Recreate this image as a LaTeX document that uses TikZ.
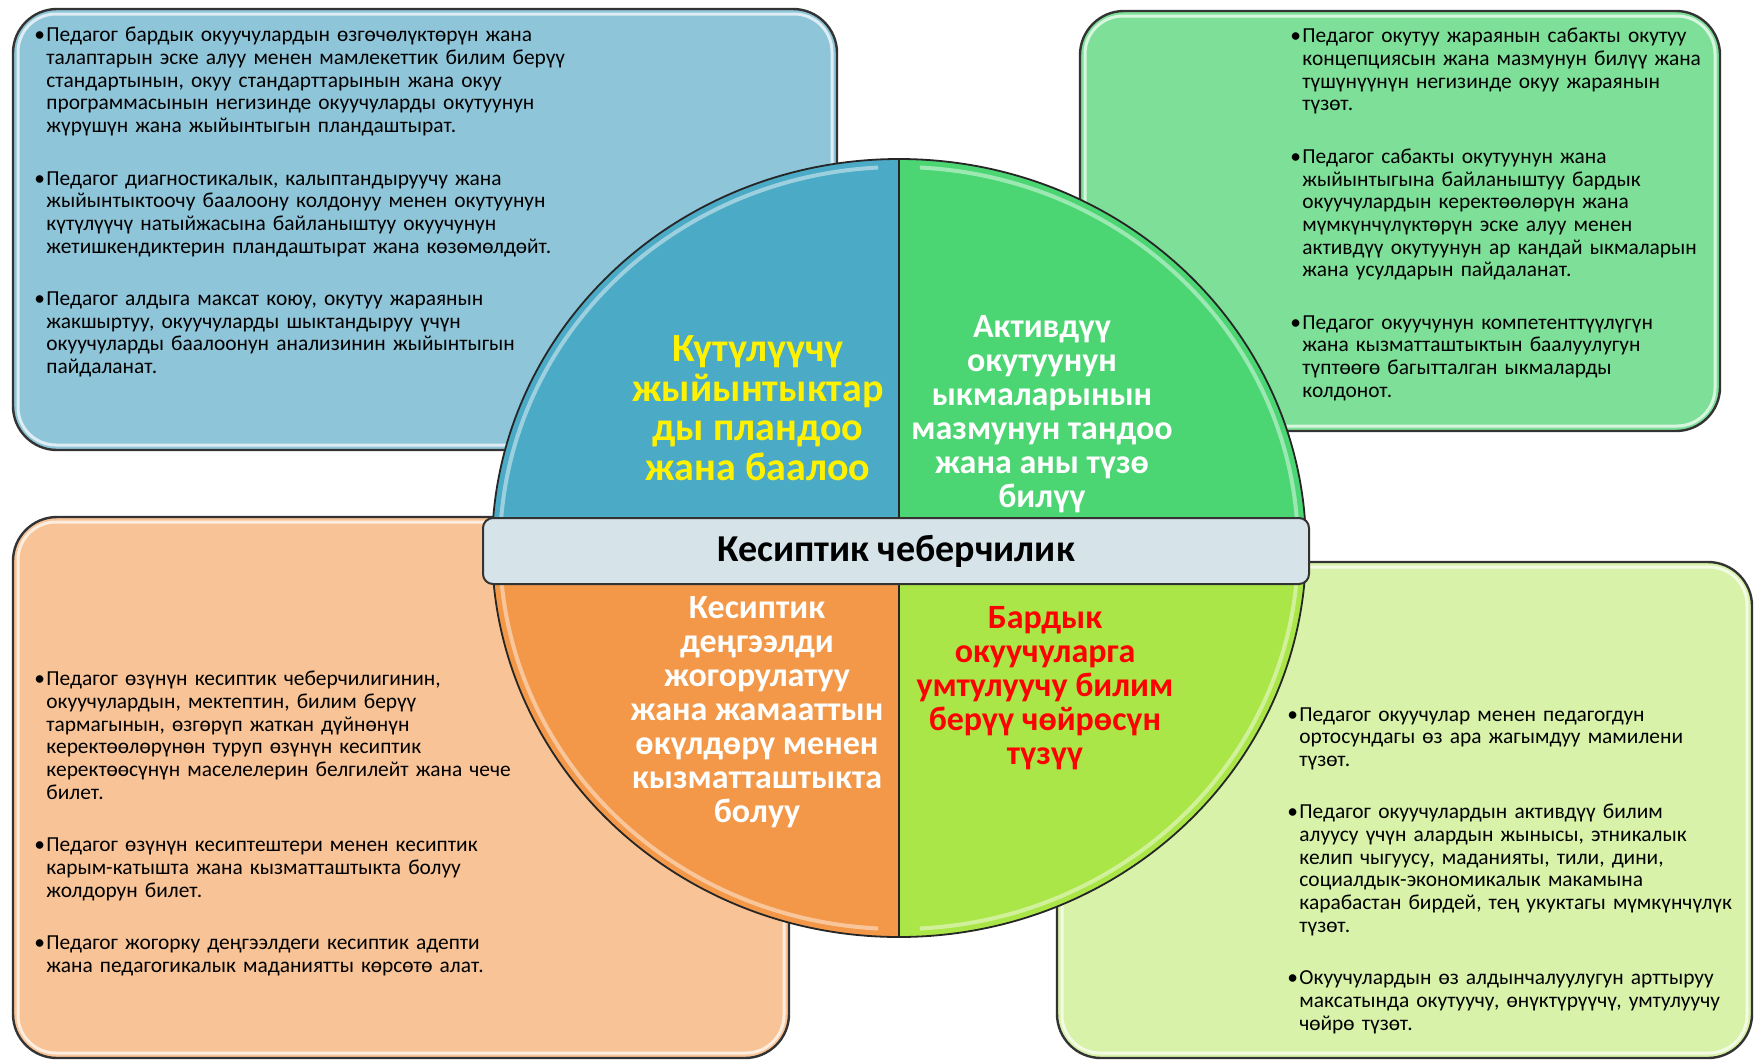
\documentclass[tikz,border=0pt]{standalone}
\usepackage{fontspec}
\setmainfont{Carlito}
\usepackage{xcolor}
\usetikzlibrary{positioning,calc}

\definecolor{planblue}{RGB}{143,197,216}
\definecolor{plangreen}{RGB}{126,224,152}
\definecolor{planpeach}{RGB}{248,195,150}
\definecolor{planlime}{RGB}{216,242,170}
\definecolor{secblue}{RGB}{75,170,198}
\definecolor{secgreen}{RGB}{76,214,115}
\definecolor{secorange}{RGB}{243,152,72}
\definecolor{seclime}{RGB}{170,230,72}
\definecolor{bandgray}{RGB}{214,227,233}

\newcommand{\point}[1]{\noindent\hangindent=6pt\hangafter=1\makebox[6pt][l]{\textbullet}#1\par}

\begin{document}
\begin{tikzpicture}[
    x=0.5pt, y=-0.5pt,
    panel/.style={draw=black!80, line width=1.2pt, rounded corners=22pt},
    gloss/.style={draw=white, line width=1.5pt, opacity=0.7, rounded corners=19pt},
    sector/.style={draw=black!85, line width=0.9pt},
    rim/.style={draw=white, line width=2pt, opacity=0.45},
    notes/.style={anchor=north west, inner sep=0pt, text width=#1, align=left,
        font=\fontsize{10.7}{11.33}\selectfont},
    headline/.style={align=center, inner sep=0pt, font=\bfseries\fontsize{17}{17}\selectfont},
    band/.style={draw=black!80, line width=1pt, rounded corners=5pt, fill=bandgray,
        minimum width=413pt, minimum height=33pt, font=\bfseries\fontsize{19}{19}\selectfont}
]
    \fill [white] (0,0) rectangle (1754,1061);
    \useasboundingbox (0,0) rectangle (1754,1061);

    % four panels behind the circle
    \foreach \xa/\ya/\xb/\yb/\col in {13/9/837/450/planblue, 1080/11/1720/431/plangreen,
        13/517/789/1058/planpeach, 1057/562/1752/1058/planlime} {
        \draw [panel, fill=\col] (\xa,\ya) rectangle (\xb,\yb);
        \draw [gloss] (\xa+5,\ya+5) rectangle (\xb-5,\yb-5);
    }

    % circle in four sectors
    \coordinate (hub) at (899,548);
    \foreach \a/\col in {180/secblue, 270/secgreen, 0/seclime, 90/secorange} {
        \draw [sector, fill=\col] (hub) -- ++(\a:407 and 389)
            arc [start angle=\a, end angle=\a+90, x radius=407, y radius=389] -- cycle;
        \draw [rim] ($(hub)+(\a+3:399 and 381)$)
            arc [start angle=\a+3, end angle=\a+87, x radius=399, y radius=381];
    }

    \node [band] (mastery) at (896,551) {Кесиптик чеберчилик};

    \node [headline, text=yellow, font=\bfseries\fontsize{20}{19.8}\selectfont] (plantitle) at (758,408)
        {Күтүлүүчү\\жыйынтыктар\\ды пландоо\\жана баалоо};
    \node [headline, text=white] (methodtitle) at (1042,414)
        {Активдүү\\окутуунун\\ыкмаларынын\\мазмунун тандоо\\жана аны түзө\\билүү};
    \node [headline, text=white] (growthtitle) at (757,712)
        {Кесиптик\\деңгээлди\\жогорулатуу\\жана жамааттын\\өкүлдөрү менен\\кызматташтыкта\\болуу};
    \node [headline, text=red] (climatetitle) at (1045,688)
        {Бардык\\окуучуларга\\умтулуучу билим\\берүү чөйрөсүн\\түзүү};

    % notes
    \node [notes=330pt] (plannotes) at (34,27) {%
        \point{Педагог бардык окуучулардын өзгөчөлүктөрүн жана\newline талаптарын эске алуу менен мамлекеттик билим берүү\newline стандартынын, окуу стандарттарынын жана окуу\newline программасынын негизинде окуучуларды окутуунун\newline жүрүшүн жана жыйынтыгын пландаштырат.}
        \vskip14.9pt
        \point{Педагог диагностикалык, калыптандыруучу жана\newline жыйынтыктоочу баалоону колдонуу менен окутуунун\newline күтүлүүчү натыйжасына байланыштуу окуучунун\newline жетишкендиктерин пландаштырат жана көзөмөлдөйт.}
        \vskip14.9pt
        \point{Педагог алдыга максат коюу, окутуу жараянын\newline жакшыртуу, окуучуларды шыктандыруу үчүн\newline окуучуларды баалоонун анализинин жыйынтыгын\newline пайдаланат.}};
    \node [notes=215pt] (methodnotes) at (1290,28) {%
        \point{Педагог окутуу жараянын сабакты окутуу\newline концепциясын жана мазмунун билүү жана\newline түшүнүүнүн негизинде окуу жараянын\newline түзөт.}
        \vskip14.9pt
        \point{Педагог сабакты окутуунун жана\newline жыйынтыгына байланыштуу бардык\newline окуучулардын керектөөлөрүн жана\newline мүмкүнчүлүктөрүн эске алуу менен\newline активдүү окутуунун ар кандай ыкмаларын\newline жана усулдарын пайдаланат.}
        \vskip14.9pt
        \point{Педагог окуучунун компетенттүүлүгүн\newline жана кызматташтыктын баалуулугун\newline түптөөгө багытталган ыкмаларды\newline колдонот.}};
    \node [notes=340pt] (growthnotes) at (34,671) {%
        \point{Педагог өзүнүн кесиптик чеберчилигинин,\newline окуучулардын, мектептин, билим берүү\newline тармагынын, өзгөрүп жаткан дүйнөнүн\newline керектөөлөрүнөн туруп өзүнүн кесиптик\newline керектөөсүнүн маселелерин белгилейт жана чече\newline билет.}
        \vskip14.9pt
        \point{Педагог өзүнүн кесиптештери менен кесиптик\newline карым-катышта жана кызматташтыкта болуу\newline жолдорун билет.}
        \vskip14.9pt
        \point{Педагог жогорку деңгээлдеги кесиптик адепти\newline жана педагогикалык маданиятты көрсөтө алат.}};
    \node [notes=232pt] (climatenotes) at (1287,707) {%
        \point{Педагог окуучулар менен педагогдун\newline ортосундагы өз ара жагымдуу мамилени\newline түзөт.}
        \vskip14.9pt
        \point{Педагог окуучулардын активдүү билим\newline алуусу үчүн алардын жынысы, этникалык\newline келип чыгуусу, маданияты, тили, дини,\newline социалдык-экономикалык макамына\newline карабастан бирдей, тең укуктагы мүмкүнчүлүк\newline түзөт.}
        \vskip14.9pt
        \point{Окуучулардын өз алдынчалуулугун арттыруу\newline максатында окутуучу, өнүктүрүүчү, умтулуучу\newline чөйрө түзөт.}};
\end{tikzpicture}
\end{document}
